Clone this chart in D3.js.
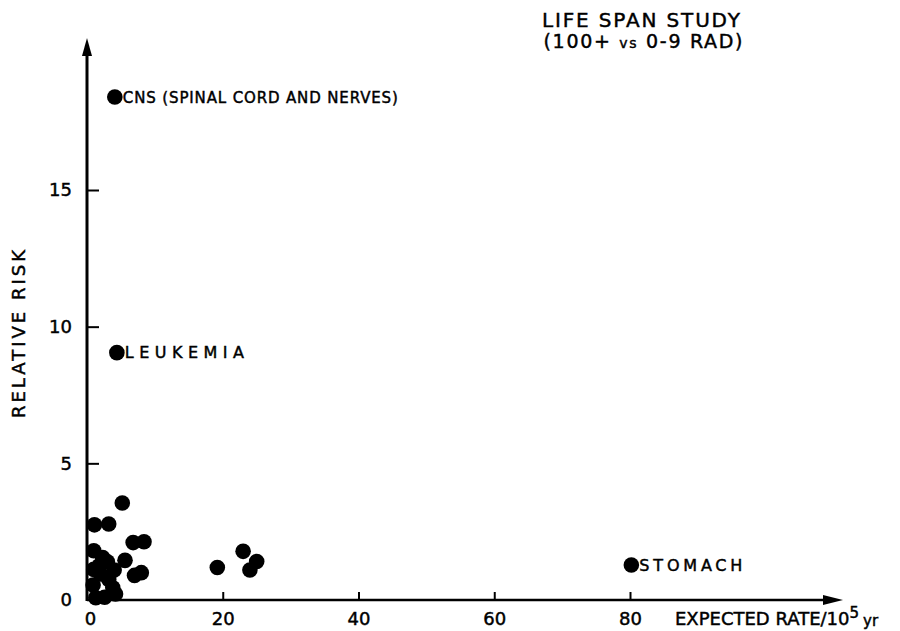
<!DOCTYPE html>
<html>
<head>
<meta charset="utf-8">
<script src="https://cdn.jsdelivr.net/npm/d3@7"></script>
<style>
  html, body { margin: 0; padding: 0; background: #fff; }
  svg { display: block; font-family: "DejaVu Sans", "Liberation Sans", Arial, sans-serif; }
  text { fill: #000; stroke: #000; stroke-width: 0.45px; }
</style>
</head>
<body>
<svg id="chart" width="900" height="631"></svg>
<script>
// Cancer sites: expected rate per 10^5 person-years vs relative risk
const siteNames = [
  "CNS (SPINAL CORD AND NERVES)", "LEUKEMIA", "STOMACH",
  "", "", "", "", "", "", "", "", "", "", "", "", "", "", "", "", "", "", "", "", "", "", "", "", ""
];
const expectedRate = [
  4.1, 4.4, 80.2,
  5.2, 1.1, 3.2, 6.8, 8.4, 1.0, 2.3, 5.6, 3.0, 1.0, 4.0, 7.0, 8.0, 2.0, 3.2, 0.9, 3.8, 1.3, 2.6, 4.2, 1.8,
  19.2, 23.0, 24.0, 25.0
];
const relativeRisk = [
  18.4, 9.05, 1.28,
  3.55, 2.75, 2.78, 2.1, 2.13, 1.8, 1.55, 1.45, 1.4, 1.12, 1.1, 0.9, 1.0, 0.95, 0.75, 0.55, 0.45, 0.08, 0.1, 0.22, 1.25,
  1.19, 1.78, 1.1, 1.41
];
const xTicks = [0, 20, 40, 60, 80];
const yTicks = [0, 5, 10, 15];

const points = expectedRate.map((v, i) => ({ x: v, y: relativeRisk[i], name: siteNames[i] }));

const svg = d3.select("#chart");
const x = d3.scaleLinear().domain([0, 80]).range([87, 630]);
const y = d3.scaleLinear().domain([0, 15]).range([600, 190]);

const font = 18;
const family = "DejaVu Sans, Liberation Sans, Arial, sans-serif";

// Axes with inward ticks
const xAxis = d3.axisBottom(x).tickValues(xTicks).tickSizeInner(-8).tickSizeOuter(0).tickPadding(12);
const yAxis = d3.axisLeft(y).tickValues(yTicks).tickSizeInner(-12).tickSizeOuter(0).tickPadding(15);

const gx = svg.append("g").attr("transform", `translate(0,${y(0)})`).call(xAxis);
const gy = svg.append("g").attr("transform", `translate(${x(0)},0)`).call(yAxis);
[gx, gy].forEach(g => {
  g.select(".domain").remove();
  g.selectAll(".tick line").attr("stroke", "#000").attr("stroke-width", 2);
  g.selectAll(".tick text").attr("fill", "#000").attr("font-size", font).attr("font-family", family);
});
gx.selectAll(".tick").filter(d => d === 0).select("line").remove();
gx.selectAll(".tick").filter(d => d === 0).select("text").attr("dx", 3);
gy.selectAll(".tick").filter(d => d === 0).select("line").remove();

// Axis lines with arrowheads
const xEnd = 843, yTop = 38;
svg.append("line").attr("x1", x(0)).attr("x2", xEnd - 14).attr("y1", y(0)).attr("y2", y(0))
  .attr("stroke", "#000").attr("stroke-width", 2.5);
svg.append("path")
  .attr("d", `M${xEnd},${y(0)} L${xEnd - 20},${y(0) - 5} L${xEnd - 20},${y(0) + 5} Z`)
  .attr("fill", "#000");
svg.append("line").attr("x1", x(0)).attr("x2", x(0)).attr("y1", y(0) + 1).attr("y2", yTop + 14)
  .attr("stroke", "#000").attr("stroke-width", 3);
svg.append("path")
  .attr("d", `M${x(0)},${yTop} L${x(0) - 5},${yTop + 18} L${x(0) + 5},${yTop + 18} Z`)
  .attr("fill", "#000");

// Axis titles
const xt = svg.append("text").attr("x", 675).attr("y", y(0) + 25)
  .attr("font-size", font);
xt.append("tspan").text("EXPECTED RATE/10");
xt.append("tspan").attr("dy", -7).attr("font-size", 15).text("5");
xt.append("tspan").attr("dy", 8).attr("dx", 4).attr("font-size", 15).text("yr");

svg.append("text")
  .attr("transform", `translate(25,334) rotate(-90)`)
  .attr("text-anchor", "middle").attr("font-size", font)
  .attr("textLength", 168).attr("lengthAdjust", "spacing")
  .text("RELATIVE RISK");

// Title
svg.append("text").attr("x", 641).attr("y", 27).attr("text-anchor", "middle")
  .attr("font-size", 20)
  .attr("textLength", 198).attr("lengthAdjust", "spacing")
  .text("LIFE SPAN STUDY");
const t2 = svg.append("text").attr("x", 643).attr("y", 48).attr("text-anchor", "middle")
  .attr("font-size", 19)
  .attr("textLength", 199).attr("lengthAdjust", "spacing");
t2.append("tspan").text("(100+ ");
t2.append("tspan").attr("font-size", 14).text("vs");
t2.append("tspan").text(" 0-9 RAD)");

// Data points
svg.append("g").selectAll("circle").data(points).join("circle")
  .attr("cx", d => x(d.x)).attr("cy", d => y(d.y)).attr("r", 7.8).attr("fill", "#000");

// Site labels
const labelWidths = { "CNS (SPINAL CORD AND NERVES)": 275, "LEUKEMIA": 119, "STOMACH": 103 };
const labelSizes = { "CNS (SPINAL CORD AND NERVES)": 15, "LEUKEMIA": 16, "STOMACH": 16 };
svg.append("g").selectAll("text").data(points.filter(d => d.name)).join("text")
  .attr("x", d => x(d.x) + 8).attr("y", d => y(d.y) + 5.5)
  .attr("font-size", d => labelSizes[d.name])
  .attr("textLength", d => labelWidths[d.name]).attr("lengthAdjust", "spacing")
  .text(d => d.name);
</script>
</body>
</html>
